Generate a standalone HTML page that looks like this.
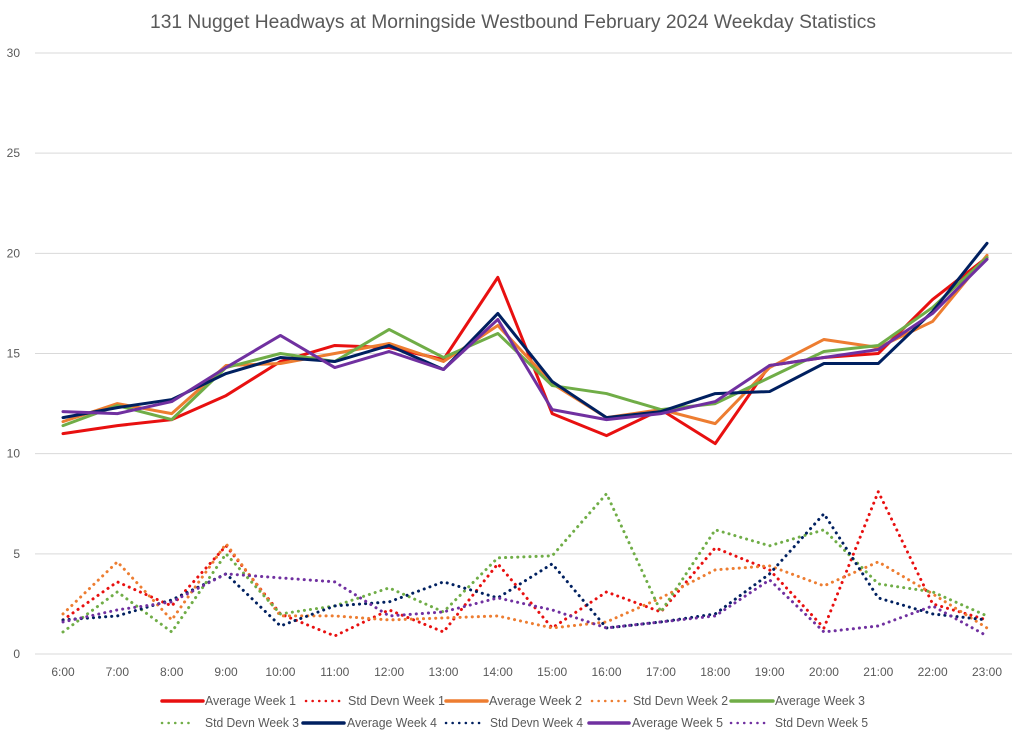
<!DOCTYPE html>
<html><head><meta charset="utf-8"><style>
body{margin:0;background:#fff;font-family:"Liberation Sans",sans-serif}
svg text{font-family:"Liberation Sans",sans-serif;fill:#595959}
</style></head><body>
<svg id="chart" width="1024" height="743" xmlns="http://www.w3.org/2000/svg">
<text x="513" y="28" text-anchor="middle" font-size="19" textLength="726" lengthAdjust="spacingAndGlyphs">131 Nugget Headways at Morningside Westbound February 2024 Weekday Statistics</text>
<g id="grid"></g><g id="series"></g><g id="legend"></g>
</svg>
<script>
const categories=["6:00","7:00","8:00","9:00","10:00","11:00","12:00","13:00","14:00","15:00","16:00","17:00","18:00","19:00","20:00","21:00","22:00","23:00"];
const yTicks=[0,5,10,15,20,25,30];
const avgW1=[11.0,11.4,11.7,12.9,14.6,15.4,15.3,14.7,18.8,12.0,10.9,12.2,10.5,14.4,14.8,15.0,17.7,19.8];
const sdW1=[1.7,3.6,2.4,5.4,2.0,0.9,2.2,1.1,4.5,1.3,3.1,2.1,5.3,4.2,1.3,8.1,2.5,1.7];
const avgW2=[11.6,12.5,12.0,14.4,14.5,15.0,15.5,14.6,16.4,13.5,11.8,12.2,11.5,14.3,15.7,15.3,16.6,19.9];
const sdW2=[2.0,4.6,1.7,5.5,1.9,1.9,1.7,1.8,1.9,1.3,1.6,2.8,4.2,4.4,3.4,4.6,3.0,1.3];
const avgW3=[11.4,12.4,11.7,14.3,15.0,14.6,16.2,14.8,16.0,13.4,13.0,12.2,12.5,13.8,15.1,15.4,17.3,19.8];
const sdW3=[1.1,3.1,1.1,5.0,2.0,2.4,3.3,2.1,4.8,4.9,8.0,2.1,6.2,5.4,6.2,3.5,3.1,1.9];
const avgW4=[11.8,12.3,12.7,14.0,14.8,14.6,15.4,14.2,17.0,13.6,11.8,12.1,13.0,13.1,14.5,14.5,17.1,20.5];
const sdW4=[1.7,1.9,2.7,4.0,1.4,2.4,2.6,3.6,2.8,4.5,1.3,1.6,2.0,4.0,7.0,2.8,2.0,1.7];
const avgW5=[12.1,12.0,12.6,14.3,15.9,14.3,15.1,14.2,16.7,12.2,11.7,12.0,12.6,14.4,14.8,15.2,17.0,19.7];
const sdW5=[1.6,2.2,2.6,4.0,3.8,3.6,1.9,2.1,2.8,2.2,1.3,1.6,1.9,3.7,1.1,1.4,2.4,0.9];
const NS="http://www.w3.org/2000/svg";
const xS=i=>63+i*(924/17);
const yS=v=>654-v*(601/30);
const mk=(t,a,p)=>{const e=document.createElementNS(NS,t);for(const k in a)e.setAttribute(k,a[k]);p.appendChild(e);return e;};
const grid=document.getElementById('grid');
yTicks.forEach(v=>{
 const l=mk('line',{x1:35,x2:1012,y1:yS(v),y2:yS(v),stroke:'#d9d9d9','stroke-width':1},grid);
 
 
 const t=mk('text',{x:20,y:yS(v)+4,'text-anchor':'end','font-size':12},grid);t.textContent=v;
 
 
});
categories.forEach((c,i)=>{
 const t=mk('text',{x:xS(i),y:676,'text-anchor':'middle','font-size':12},grid);t.textContent=c;
 
 
});
const series=[
 ["Average Week 1",avgW1,"#e81010",false],["Std Devn Week 1",sdW1,"#e81010",true],
 ["Average Week 2",avgW2,"#ed7d31",false],["Std Devn Week 2",sdW2,"#ed7d31",true],
 ["Average Week 3",avgW3,"#70ad47",false],["Std Devn Week 3",sdW3,"#70ad47",true],
 ["Average Week 4",avgW4,"#002060",false],["Std Devn Week 4",sdW4,"#002060",true],
 ["Average Week 5",avgW5,"#7030a0",false],["Std Devn Week 5",sdW5,"#7030a0",true]];
const sg=document.getElementById('series');
series.forEach(([name,vals,col,dot])=>{
 const p=mk('polyline',{points:vals.map((v,i)=>xS(i)+','+yS(v)).join(' '),fill:'none',stroke:col,'stroke-width':3,'stroke-linejoin':'round','stroke-linecap':'round'},sg);
 if(dot){p.setAttribute('stroke-dasharray','0.1 6');}
 
 
});
const lg=document.getElementById('legend');
// [lineStart, lineEnd, textX, textWidth, y]
const pos=[[162,203,205,91,701],[306,340,348,97,701],[446,487,489,93,701],[592,627,633,95,701],[731,773,775,90,701],
 [162,195,205,94,723],[303,344,347,90,723],[446,480,490,93,723],[589,629,632,91,723],[731,765,775,93,723]];
series.forEach(([name,vals,col,dot],k)=>{
 const [a,b,tx,tw,y]=pos[k];
 const g=mk('g',{},lg);
 
 
 const l=mk('line',{x1:a,x2:b,y1:y,y2:y,stroke:col,'stroke-width':dot?2.5:3.5,'stroke-linecap':'round'},g);
 if(dot)l.setAttribute('stroke-dasharray','0.1 6.5');
 const t=mk('text',{x:tx,y:y+4,'font-size':12.5,textLength:tw,lengthAdjust:'spacingAndGlyphs'},g);t.textContent=name;
});
</script>
</body></html>
